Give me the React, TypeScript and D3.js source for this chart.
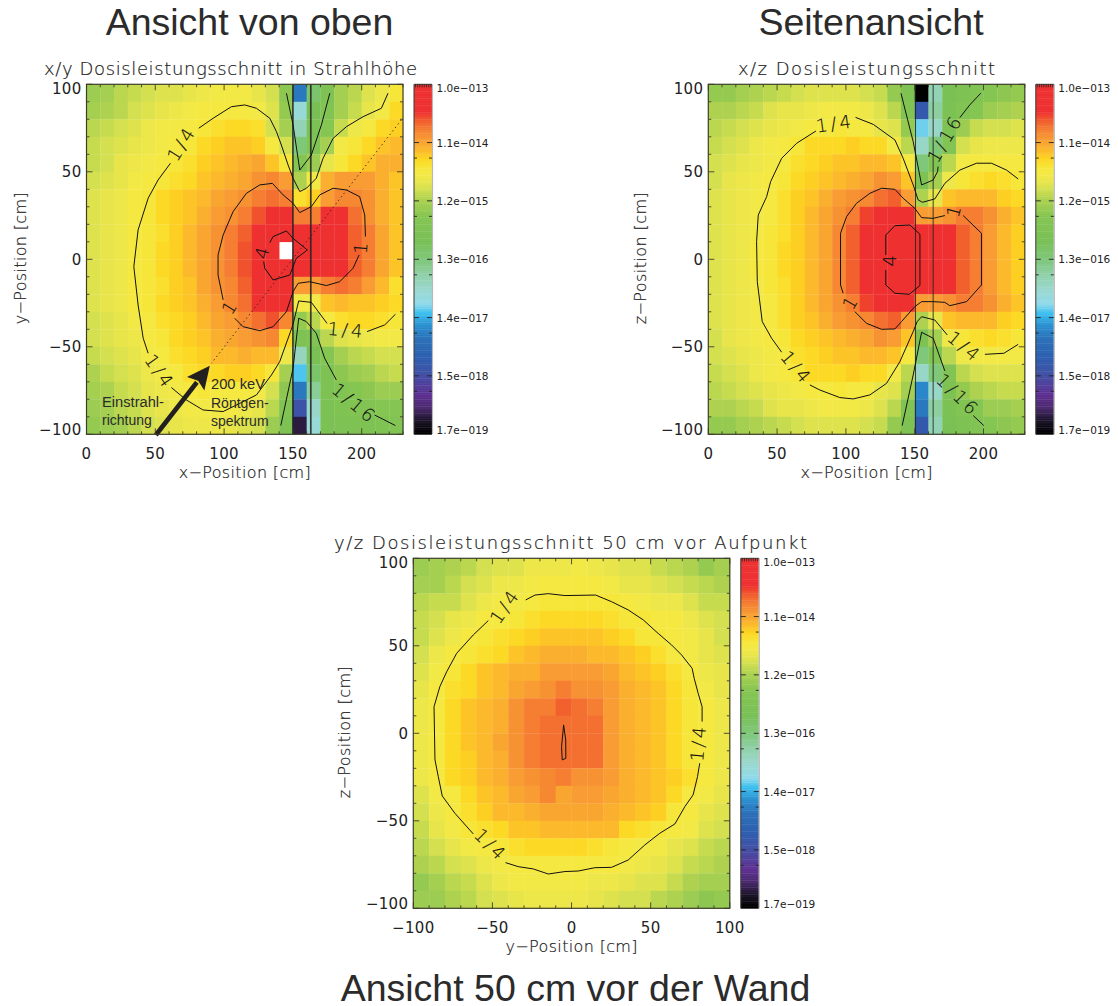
import React from "react";
import * as d3 from "d3";

// ---------- colour bar ----------
const barPositions = [0, 3.6, 7.4, 11, 17, 22, 27, 31, 34.5, 37, 41, 45.5, 49, 55, 62, 66.5, 70, 72, 74, 76, 78.4, 81, 84, 87, 89.5, 92, 100];
const barColours = ["#000000", "#1a1226", "#4a2a6e", "#5f2f92", "#4050a5", "#2c5fb0", "#2a70b8", "#2a90d0", "#3cc0f0", "#8fdaea", "#9ad8d0", "#90d0a8", "#80c880", "#78c055", "#85c552", "#a8d050", "#d4e04f", "#e8e54b", "#f3e946", "#f7e63a", "#fdd61f", "#fbb92b", "#f89c33", "#f57e32", "#f15a2c", "#ee3030", "#ee3030"];
const barLabels = ["1.0e\u2212013", "1.1e\u2212014", "1.2e\u2212015", "1.3e\u2212016", "1.4e\u2212017", "1.5e\u2212018", "1.7e\u2212019"];
const barTickLevels = [100, 83.35, 66.7, 50, 33.35, 16.7, 0];

// ---------- cell values, in percent of colour-bar height ----------
const xyGrid: (number | null)[][] = [
  [65,66,68,69,70,71,71,72,73,74,74,74,72,70,63,28,52,58,66,68,71,73,76],
  [66,67,68,70,71,72,73,74,75,75,75,75,74,71,64,40,55,60,66,69,72,74,78],
  [68,69,70,71,73,74,74,75,76,77,78,78,77,70,66,44,57,62,69,73,75,78,79],
  [69,70,71,72,73,74,75,76,78,79,80,80,79,75,70,50,60,66,74,76,78,80,81],
  [69,70,72,73,74,75,76,77,79,80,81,82,83,80,76,61,65,72,76,78,80,82,82],
  [70,71,72,74,75,76,77,78,80,81,82,83,85,86,84,67,74,82,84,84,84,82,80],
  [71,72,73,75,76,78,79,80,81,83,84,85,87,88,87,77,79,84,86,86,85,82,80],
  [71,72,73,75,76,78,79,80,82,84,85,87,90,92,92,87,87,92,92,88,85,82,80],
  [71,72,73,75,76,77,79,81,83,85,87,89,93,95,95,95,95,95,95,89,87,83,80],
  [71,72,73,75,76,78,79,81,83,85,87,90,95,95,null,95,95,95,95,89,87,83,80],
  [71,72,73,75,76,78,79,81,83,85,87,90,95,95,95,95,95,95,95,89,87,83,80],
  [71,72,73,75,76,77,79,80,83,85,86,89,94,95,95,84,84,87,88,87,84,81,77],
  [71,72,73,75,76,78,79,80,82,84,86,88,92,95,92,74,74,80,81,80,80,79,78],
  [70,71,72,74,75,77,78,79,81,83,84,86,88,90,86,64,68,75,77,78,78,77,76],
  [70,71,72,73,75,76,78,79,80,82,83,84,85,86,78,58,60,68,71,72,73,74,74],
  [69,70,71,72,74,75,77,78,79,81,81,82,81,81,73,43,56,62,66,68,69,70,70],
  [67,69,70,71,73,74,75,77,78,78,79,79,78,76,66,35,52,58,63,65,66,68,69],
  [66,67,69,70,72,73,74,75,76,75,75,75,74,70,63,28,47,58,60,62,63,65,65],
  [65,66,68,69,71,72,73,74,74,74,74,73,72,68,60,18,42,57,59,60,60,62,62],
  [64,65,66,68,70,71,72,73,73,73,72,71,70,65,58,5,40,57,58,58,58,59,60],
];
const xzGrid: (number | null)[][] = [
  [64,64,66,67,68,69,70,71,71,71,71,70,69,64,58,0,44,56,58,60,62,63,64],
  [67,67,68,69,71,72,72,73,74,74,74,73,71,68,60,20,46,57,60,62,65,66,67],
  [68,69,70,71,72,73,74,75,75,76,75,75,72,71,64,36,42,58,65,69,70,70,71],
  [69,70,71,73,74,75,76,78,78,78,79,78,78,74,68,42,50,60,70,72,73,73,73],
  [70,71,72,73,74,75,77,78,79,80,80,81,81,80,75,50,60,68,74,75,75,75,75],
  [70,72,73,74,75,76,78,79,80,81,82,83,85,84,80,58,66,73,76,77,78,77,76],
  [71,72,73,74,75,77,79,80,82,84,85,86,88,89,84,67,72,80,81,81,81,79,78],
  [71,72,73,74,75,77,79,81,83,85,87,91,92,92,92,84,84,85,87,87,85,82,80],
  [71,72,73,74,76,77,79,81,83,86,89,92,95,95,95,95,95,95,89,87,84,81,79],
  [71,72,73,75,76,78,79,81,83,86,89,92,95,95,95,95,95,95,89,87,84,81,79],
  [71,72,73,75,76,78,79,81,83,86,89,92,95,95,95,95,95,95,89,87,84,81,79],
  [71,72,73,74,76,77,79,81,83,86,89,92,95,95,95,95,95,95,89,87,84,81,79],
  [71,72,73,74,75,77,79,81,83,85,87,91,92,92,92,84,84,85,87,87,85,82,80],
  [71,72,73,74,75,77,79,80,82,84,85,86,88,89,84,67,72,80,81,81,81,79,78],
  [70,72,73,74,75,76,78,79,80,81,82,83,85,84,80,58,66,73,76,77,78,77,76],
  [70,71,72,73,74,75,77,78,79,80,80,81,81,80,75,50,60,68,73,74,74,74,74],
  [69,70,71,73,74,75,76,78,78,78,79,78,78,74,68,42,50,60,68,70,71,71,71],
  [68,69,70,71,72,73,74,75,75,76,75,75,72,71,66,30,42,58,64,67,68,69,69],
  [67,67,68,69,71,72,72,73,74,74,74,73,71,68,60,28,46,57,60,62,65,65,66],
  [64,64,66,67,68,69,70,71,71,71,71,70,69,64,58,20,44,56,58,60,62,63,64],
];
const yzGrid: (number | null)[][] = [
  [65,66,67,68,70,71,71,73,73,73,74,73,72,71,71,69,68,67,64,66],
  [66,66,68,70,71,73,73,74,75,75,75,75,74,72,72,71,70,69,68,67],
  [68,69,69,71,73,74,74,75,76,76,76,76,76,75,74,73,73,71,69,69],
  [69,70,72,73,75,75,76,77,78,78,78,78,77,76,76,75,75,73,71,70],
  [69,71,73,75,76,77,78,79,80,80,80,80,79,78,76,76,75,74,72,70],
  [70,73,75,76,77,78,80,81,82,82,82,81,81,80,79,77,75,74,72,71],
  [71,74,76,78,80,81,82,82,84,84,84,84,83,81,80,79,77,75,73,72],
  [72,75,77,78,80,81,83,84,85,87,85,85,84,82,81,80,78,76,74,72],
  [73,75,78,80,81,82,85,87,87,89,88,87,84,82,81,80,78,76,75,73],
  [73,75,78,80,81,82,85,87,88,88,88,88,84,82,81,80,78,76,75,73],
  [73,75,78,80,81,83,85,87,88,88,88,88,84,82,81,80,78,76,75,73],
  [73,75,78,79,81,82,85,87,88,88,88,88,84,82,81,80,78,76,75,73],
  [73,75,78,79,81,82,84,85,86,87,85,85,84,82,81,80,79,77,75,73],
  [71,74,75,78,80,81,83,84,86,83,84,84,83,82,81,80,78,75,74,72],
  [70,73,75,77,79,81,81,82,83,83,83,83,82,81,80,79,76,75,72,71],
  [69,72,74,76,77,78,80,80,81,81,81,81,81,78,77,76,75,74,71,70],
  [68,70,72,74,75,76,77,78,78,78,78,77,76,75,74,74,72,71,69,68],
  [67,68,70,71,73,74,75,75,75,75,75,75,75,74,73,72,71,69,68,67],
  [64,66,68,69,71,73,74,74,74,74,74,73,73,72,71,71,69,67,66,66],
  [65,65,67,68,70,71,72,73,73,73,73,72,71,70,70,68,67,65,63,64],
];

type Pt = [number, number];

// ---------- contour lines in cm ----------
const xyContours: Pt[][] = [
  [[81.6,74.9],[92,80.6],[105.3,87.2],[115,88.2],[123.5,86.3],[133.2,80.6],[138,73],[141.6,65.3],[146.5,53.9],[150.1,46.3],[155,38.7],[159.8,40.6],[167,46.3],[171.9,57.7],[179.2,69.1],[188.9,75.8],[201,81.5],[214.3,86.3],[219.1,94.9]],
  [[61,54.9],[52,45.3],[44.8,34.9],[37.5,16.8],[34.4,-4.2],[37.5,-26.1],[41.2,-45.1],[44.8,-53.7]],
  [[61.7,-73.3],[72.6,-80.4],[84.7,-86.1],[99.3,-87],[111.4,-82.3],[123.5,-77.5],[134.4,-66.1],[140.4,-58.5],[150,-37.5],[154.2,-23.8],[163.4,-24.6],[174.8,-36.6]],
  [[203.9,-41.3],[216.7,-37.5],[224.5,-31.4]],
  [[145.3,94.9],[150.1,76.8],[155,51],[163.4,59.6],[170.7,76.8],[176.8,94.9]],
  [[141.2,-95],[150.1,-62.3],[154.2,-33.7],[159.8,-35.6],[167,-42.3],[173.1,-56.6],[181.6,-69]],
  [[209.4,-89],[224.5,-95]],
  [[99.3,-23.2],[95.6,-9],[95.6,2.5],[99.3,13.9],[106.5,27.2],[116.2,37.7],[125.9,42.5],[135.1,43.4],[142.9,36.8],[150.1,32],[155,26.7],[163.4,30.1],[169.5,36.8],[179.2,40.6],[188.9,39.6],[198.5,35.8],[202.2,25.3],[202.7,13]],
  [[198.1,2.5],[193.7,-5.1],[184,-12.8],[174.3,-15],[162.2,-12.8],[153.8,-13.7],[150.1,-18.5],[145.3,-29.9],[135.6,-38.5],[125.9,-40.8],[113.8,-38.5],[107.7,-33.7]],
  [[133.2,9.5],[135.6,13],[145.3,16.2],[150.1,12],[160.5,5.3],[152.5,0.6],[147.7,-9],[135.6,-11.8],[129.5,-5.1],[128.8,-1.3]],
];
const xzContours: Pt[][] = [
  [[78.2,73.3],[64.2,66.3],[53.3,57.7],[45.3,44.4],[42.4,35.8],[36.3,25.3],[35.1,10.1],[35.6,-12.8],[39.2,-35.6],[46,-45.1],[53.3,-53.1]],
  [[73.8,-71.8],[81.1,-74.7],[95.6,-79],[105.3,-79.8],[117.4,-77.5],[129.5,-70.9],[139.2,-58.5],[148.9,-41.3],[151.8,-35.6],[155,-32.8],[164.6,-34.7],[173.6,-43.2]],
  [[201,-54.3],[214.8,-53.7],[225.2,-48.6]],
  [[107,81.1],[119.9,77.1],[135.6,68.2],[141.6,57.7],[148.9,42.5],[152.5,33.9],[155.7,32.6],[164.6,34.5],[171.9,43.4],[182.8,51],[194.9,54.9],[205.8,54.9],[216.7,51],[225.2,45.9]],
  [[140,94.9],[148.9,67.2],[155,42.5],[163.4,45.3],[166.6,50.1],[167,53]],
  [[182.8,81],[190,88.2],[198,94.9]],
  [[140.9,-95],[148.9,-66.1],[155,-41.7],[163.4,-45.1],[171.9,-63.8]],
  [[192.5,-89.3],[200.2,-95]],
  [[98,-19.4],[96.1,-14.7],[96.1,14.9],[100.5,24.4],[107.7,32],[117.4,37.7],[125.9,40.6],[135.6,40],[141.6,34.9],[150.1,29.1],[155,23.8],[163.4,23.4],[171.9,25]],
  [[185.2,25],[198.5,14.9],[198.5,-14.7],[187.7,-24.2],[175.5,-26.5],[171.9,-24.6],[163.4,-24.2],[155,-24.2],[150.1,-27],[140.4,-35.6],[135.6,-39.8],[125.9,-40],[115,-36.6],[106.5,-29.9]],
  [[129,2.5],[129,13.9],[135.6,19.2],[146.5,19.6],[153.8,14.3],[153.8,-15],[146,-20],[135.6,-19.4],[129,-14.7],[129,-6.1]],
];
const yzContours: Pt[][] = [
  [[-29,76.2],[-23.1,79],[-14.7,79.8],[-4.2,78.7],[15.2,79],[25.3,75.2],[35.8,70.5],[45.3,64.8],[54.7,57.1],[63.2,50.5],[69.5,44.8],[76.2,37.1],[77.5,31.4],[80,22.9],[82.5,15.2],[82.5,6.7]],
  [[81,-17.1],[79.6,-24.8],[76.8,-35.2],[71.6,-41.9],[65.3,-51.8],[55.8,-57.1],[46.3,-63.8],[35.8,-72.4],[25.3,-76.6],[14.7,-76.8],[4.2,-78.7],[-4.2,-79],[-14.7,-80.4],[-24.2,-77.5],[-33.7,-76.2],[-41.7,-73.9]],
  [[-62.1,-57.5],[-73.7,-45.7],[-81.7,-35.8],[-84.2,-24.8],[-86.3,-15.2],[-86.9,15.2],[-83.2,26.7],[-78.9,35.2],[-72.6,45.7],[-62.1,56.2],[-52.6,64.4]],
  [[-5,4.8],[-3.7,-3.8],[-3.6,-14.3],[-5.9,-15.2],[-6.3,-7.6],[-5,4.8]],
];

type Lab = { t: string; at: Pt; rot: number };
const xyLabels: Lab[] = [
  { t: "1/4", at: [69, 66.3], rot: -58 },
  { t: "1/4", at: [53.3, -64.2], rot: 55 },
  { t: "4", at: [127.8, 4.4], rot: -75 },
  { t: "1", at: [199.3, 7.2], rot: -85 },
  { t: "1", at: [104.1, -27], rot: -58 },
  { t: "1/4", at: [188.9, -40.4], rot: 5 },
  { t: "1/16", at: [194.9, -82.3], rot: 40 },
];
const xzLabels: Lab[] = [
  { t: "1/4", at: [92, 77.7], rot: -8 },
  { t: "1/4", at: [64.2, -61.9], rot: 50 },
  { t: "1/4", at: [186.4, -49.9], rot: 40 },
  { t: "1/16", at: [171.9, 69.1], rot: -60 },
  { t: "1/16", at: [181.6, -77.5], rot: 45 },
  { t: "1", at: [178.5, 28.2], rot: -75 },
  { t: "1", at: [103.4, -24.2], rot: -60 },
  { t: "4", at: [131.5, 0], rot: -90 },
];
const yzLabels: Lab[] = [
  { t: "1/4", at: [-42.1, 72.8], rot: -55 },
  { t: "1/4", at: [-50.9, -63.8], rot: 45 },
  { t: "1/4", at: [80, -5.3], rot: -85 },
];

const xTicksPos = [0, 50, 100, 150, 200];
const xTicksCentred = [-100, -50, 0, 50, 100];
const yTicks = [-100, -50, 0, 50, 100];
const wallsXY = [150, 163];
const wallsXZ = [150.6, 163.4];
const beamLine: Pt[] = [[228.8, 79.6], [90.8, -59.4]];
const arrowLine: Pt[] = [[50.4, -100.4], [89.6, -60.8]];

const colour = d3.scaleLinear<string>().domain(barPositions).range(barColours).interpolate(d3.interpolateRgb);
const HERSHEY = "'DejaVu Sans', sans-serif";
const fmt = (v: number) => String(v).replace("-", "\u2212");

type PanelProps = {
  left: number; top: number; grid: (number | null)[][]; xDom: [number, number];
  xTicks: number[]; xName: string; yName: string; title: string; titleX: [number, number];
  titleY: number; contours: Pt[][]; labels: Lab[]; walls?: number[]; wallWidth?: number; yTitleX: number;
  children?: (x: d3.ScaleLinear<number, number>, y: d3.ScaleLinear<number, number>) => React.ReactNode;
};

function Panel(p: PanelProps) {
  const W = 316.5, H = 350;
  const x = d3.scaleLinear().domain(p.xDom).range([p.left, p.left + W]);
  const y = d3.scaleLinear().domain([-100, 100]).range([p.top + H, p.top]);
  const line = d3.line<Pt>().x((d) => x(d[0])).y((d) => y(d[1]));
  const nCols = p.grid[0].length;
  const cw = (p.xDom[1] - p.xDom[0]) / nCols;
  const minorX = d3.range(p.xDom[0], p.xDom[1] + 0.1, 10);
  const minorY = d3.range(-100, 100.1, 10);
  const frame = "#3d3d2a";
  return (
    <g>
      {p.grid.map((row, r) =>
        row.map((v, c) =>
          v === null ? null : (
            <rect key={`${r}-${c}`} x={x(p.xDom[0] + c * cw)} y={y(100 - r * 10)}
              width={x(p.xDom[0] + cw) - x(p.xDom[0]) + 0.3} height={y(90) - y(100) + 0.3} fill={colour(v)} />
          )
        )
      )}
      {p.walls?.map((w) => (
        <line key={w} x1={x(w)} x2={x(w)} y1={p.top} y2={p.top + H} stroke="#222" strokeOpacity={0.85} strokeWidth={p.wallWidth ?? 1.2} />
      ))}
      {p.contours.map((c, i) => (
        <path key={i} d={line(c) ?? ""} fill="none" stroke="#111" strokeWidth={1} strokeLinejoin="round" />
      ))}
      {p.labels.map((l, i) => (
        <text key={i} transform={`translate(${x(l.at[0])},${y(l.at[1])}) rotate(${l.rot})`} textAnchor="middle" dominantBaseline="central"
          fontFamily={HERSHEY} fontWeight={200} fontSize={18} letterSpacing={3} stroke="#111" strokeWidth={0.15} fill="#111">{l.t}</text>
      ))}
      {p.children?.(x, y)}
      {minorX.map((t) => {
        const len = p.xTicks.includes(t) ? 6 : 3;
        return (
          <g key={t} stroke={frame} strokeWidth={0.9}>
            <line x1={x(t)} x2={x(t)} y1={p.top + H} y2={p.top + H - len} />
            <line x1={x(t)} x2={x(t)} y1={p.top} y2={p.top + len} />
          </g>
        );
      })}
      {minorY.map((t) => {
        const len = yTicks.includes(t) ? 6 : 3;
        return (
          <g key={t} stroke={frame} strokeWidth={0.9}>
            <line x1={p.left} x2={p.left + len} y1={y(t)} y2={y(t)} />
            <line x1={p.left + W} x2={p.left + W - len} y1={y(t)} y2={y(t)} />
          </g>
        );
      })}
      <rect x={p.left} y={p.top} width={W} height={H} fill="none" stroke={frame} strokeWidth={1.2} />
      {p.xTicks.map((t) => (
        <text key={t} x={x(t)} y={p.top + H + 25} textAnchor="middle" fontFamily={HERSHEY} fontSize={15} letterSpacing={0.3} fill="#222">{fmt(t)}</text>
      ))}
      {yTicks.map((t) => (
        <text key={t} x={p.left - 5} y={y(t) + 5.5 + (t === 100 ? 4.5 : t === -100 ? -5 : 0)} textAnchor="end" fontFamily={HERSHEY} fontSize={15} letterSpacing={0.3} fill="#222">{fmt(t)}</text>
      ))}
      <text x={p.left + W / 2} y={p.top + H + 44} textAnchor="middle" textLength={132} lengthAdjust="spacing" fontFamily={HERSHEY} fontWeight={200} fontSize={16} stroke="#222" strokeWidth={0.2} fill="#222">{p.xName}</text>
      <text transform={`translate(${p.yTitleX},${p.top + H / 2 - 1}) rotate(-90)`} textAnchor="middle" textLength={132} lengthAdjust="spacing" fontFamily={HERSHEY} fontWeight={200} fontSize={16} stroke="#222" strokeWidth={0.2} fill="#222">{p.yName}</text>
      <text x={p.titleX[0]} y={p.titleY} textLength={p.titleX[1] - p.titleX[0]} lengthAdjust="spacing" fontFamily={HERSHEY} fontWeight={200} fontSize={18} stroke="#222" strokeWidth={0.2} fill="#222">{p.title}</text>
      <ColourBar left={p.left + W + 11} top={p.top} height={H} />
    </g>
  );
}

function ColourBar({ left, top, height }: { left: number; top: number; height: number }) {
  const w = 18;
  const yb = d3.scaleLinear().domain([0, 100]).range([top + height, top]);
  const steps = d3.range(0, 100, 0.5);
  const comb = d3.range(1.5, 17, 2.2);
  const labelOffset = [3.5, 0, 0, 0, 0, 0, -4];
  return (
    <g>
      {steps.map((s) => (
        <rect key={s} x={left} y={yb(s + 0.5)} width={w} height={yb(s) - yb(s + 0.5) + 0.4} fill={colour(s)} />
      ))}
      <line x1={left} x2={left} y1={top} y2={top + height} stroke="#3a3a30" strokeWidth={1} />
      <line x1={left + w + 0.5} x2={left + w + 0.5} y1={top} y2={top + height} stroke="#b8b8b8" strokeWidth={1.2} />
      <line x1={left} x2={left + w} y1={top} y2={top} stroke="#3a3a30" strokeWidth={1} />
      {comb.map((c) => (
        <line key={c} x1={left + c} x2={left + c} y1={top} y2={top + 3} stroke="#222" strokeWidth={0.8} />
      ))}
      {barTickLevels.map((lv, i) => (
        <g key={i}>
          {i > 0 && i < 6 && (
            <g stroke="#222" strokeWidth={0.9}>
              <line x1={left} x2={left + 5} y1={yb(lv)} y2={yb(lv)} />
              <line x1={left + w} x2={left + w - 5} y1={yb(lv)} y2={yb(lv)} />
              <line x1={left} x2={left + 3} y1={yb(lv) + 15.5} y2={yb(lv) + 15.5} />
              <line x1={left + w} x2={left + w - 3} y1={yb(lv) + 15.5} y2={yb(lv) + 15.5} />
            </g>
          )}
          <text x={left + w + 4.5} y={yb(lv) + 4 + labelOffset[i]} textLength={52} lengthAdjust="spacing" fontFamily={HERSHEY} fontSize={10.5} fill="#222">{barLabels[i]}</text>
        </g>
      ))}
    </g>
  );
}

const INK = "#2b2b2b";
const SANS = "'Liberation Sans', Arial, sans-serif";

function Annotations(x: d3.ScaleLinear<number, number>, y: d3.ScaleLinear<number, number>) {
  const line = d3.line<Pt>().x((d) => x(d[0])).y((d) => y(d[1]));
  const tip: Pt = [x(arrowLine[1][0]), y(arrowLine[1][1])];
  const tail: Pt = [x(arrowLine[0][0]), y(arrowLine[0][1])];
  const ang = Math.atan2(tip[1] - tail[1], tip[0] - tail[0]);
  const hl = 23, hw = 11;
  const bx = tip[0] - hl * Math.cos(ang), by = tip[1] - hl * Math.sin(ang);
  const nx = -Math.sin(ang), ny = Math.cos(ang);
  const head = `M${tip[0]},${tip[1]}L${bx + hw * nx},${by + hw * ny}L${bx + 4 * Math.cos(ang)},${by + 4 * Math.sin(ang)}L${bx - hw * nx},${by - hw * ny}Z`;
  return (
    <g>
      <path d={line(beamLine) ?? ""} fill="none" stroke="#222" strokeWidth={1} strokeDasharray="1.2 3.2" />
      <line x1={tail[0]} y1={tail[1]} x2={bx + 2 * Math.cos(ang)} y2={by + 2 * Math.sin(ang)} stroke="#231f20" strokeWidth={4.6} />
      <path d={head} fill="#231f20" />
      <g fontFamily={SANS} fontSize={14} fill={INK}>
        <text x={102} y={407} textLength={62} lengthAdjust="spacingAndGlyphs">Einstrahl-</text>
        <text x={102} y={424.5}>richtung</text>
        <text x={211} y={388.5} textLength={54} lengthAdjust="spacingAndGlyphs">200 keV</text>
        <text x={211} y={408}>Röntgen-</text>
        <text x={211} y={425.5}>spektrum</text>
      </g>
    </g>
  );
}

export default function App() {
  return (
    <svg width={1118} height={1006} viewBox="0 0 1118 1006" style={{ position: "absolute", left: 0, top: 0, background: "#fff" }}>
      <g fontFamily={SANS} fontSize={37.5} fill={INK} textAnchor="middle">
        <text x={249.5} y={35}>Ansicht von oben</text>
        <text x={871} y={35}>Seitenansicht</text>
        <text x={575.5} y={1001}>Ansicht 50 cm vor der Wand</text>
      </g>
      <Panel left={86.5} top={84.3} grid={xyGrid} xDom={[0, 230]} xTicks={xTicksPos} xName={"x\u2212Position [cm]"} yName={"y\u2212Position [cm]"}
        title="x/y Dosisleistungsschnitt in Strahlhöhe" titleX={[44, 417]} titleY={75} contours={xyContours} labels={xyLabels} walls={wallsXY} wallWidth={1.7} yTitleX={26}>
        {Annotations}
      </Panel>
      <Panel left={708.3} top={84.3} grid={xzGrid} xDom={[0, 230]} xTicks={xTicksPos} xName={"x\u2212Position [cm]"} yName={"z\u2212Position [cm]"}
        title="x/z Dosisleistungsschnitt" titleX={[738, 995]} titleY={75} contours={xzContours} labels={xzLabels} walls={wallsXZ} wallWidth={1} yTitleX={646} />
      <Panel left={413.3} top={558.3} grid={yzGrid} xDom={[-100, 100]} xTicks={xTicksCentred} xName={"y\u2212Position [cm]"} yName={"z\u2212Position [cm]"}
        title="y/z Dosisleistungsschnitt 50 cm vor Aufpunkt" titleX={[334, 807]} titleY={549} contours={yzContours} labels={yzLabels} yTitleX={350} />
    </svg>
  );
}
